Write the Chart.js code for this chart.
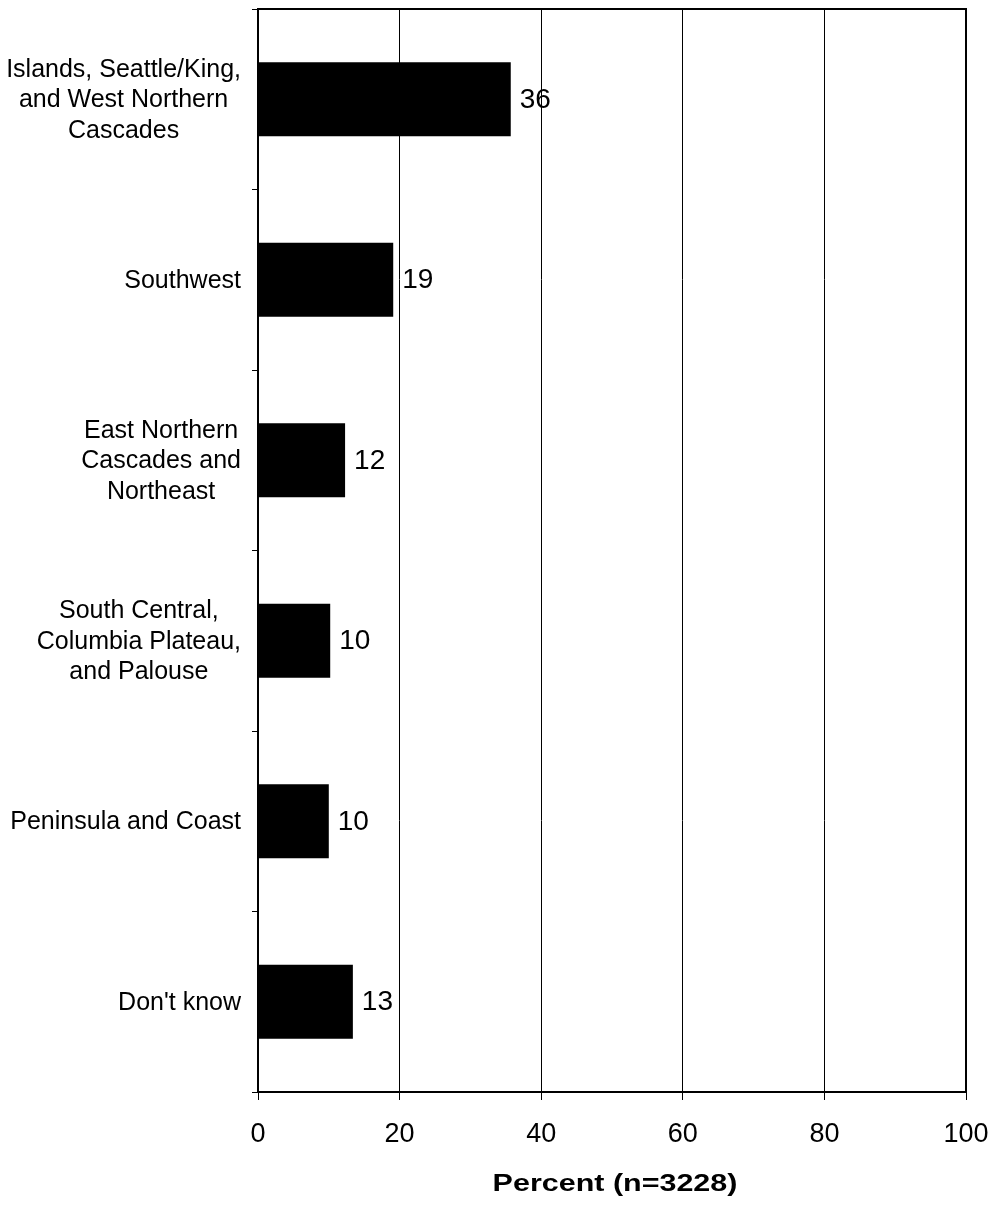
<!DOCTYPE html>
<html>
<head>
<meta charset="utf-8">
<script src="https://cdn.jsdelivr.net/npm/chart.js@4.4.1/dist/chart.umd.min.js"></script>
<style>
  html, body { margin: 0; padding: 0; background: #fff; }
</style>
</head>
<body>
<canvas id="chart" width="995" height="1205"></canvas>
<script>
// Region names, one array of lines per category (drawn right-aligned, lines centred)
const regionLabels = [
    ['Islands, Seattle/King,', 'and West Northern', 'Cascades'],
    ['Southwest'],
    ['East Northern', 'Cascades and', 'Northeast'],
    ['South Central,', 'Columbia Plateau,', 'and Palouse'],
    ['Peninsula and Coast'],
    ["Don't know"],
];
// Percent of respondents per region
const percentValues = [35.7, 19.1, 12.3, 10.2, 10.0, 13.4];
// Labels printed next to each bar
const valueLabels = ['36', '19', '12', '10', '10', '13'];
// x axis ticks
const percentTicks = [0, 20, 40, 60, 80, 100];
const axisTitle = 'Percent (n=3228)';

const FONT = '"Liberation Sans", Arial, Helvetica, sans-serif';

// Category names on the left: block right-aligned, lines centred inside it
const regionLabelPlugin = {
    id: 'regionLabels',
    afterDraw(chart) {
        const ctx = chart.ctx;
        const yScale = chart.scales.y;
        const lineH = 30.5;
        const right = 241;
        ctx.save();
        ctx.font = '25px ' + FONT;
        ctx.fillStyle = '#000';
        ctx.textAlign = 'center';
        ctx.textBaseline = 'middle';
        regionLabels.forEach((lines, i) => {
            const yc = yScale.getPixelForValue(i);
            const blockW = Math.max(...lines.map((l) => ctx.measureText(l).width));
            const xc = right - blockW / 2;
            const y0 = yc - ((lines.length - 1) * lineH) / 2;
            lines.forEach((line, j) => ctx.fillText(line, xc, y0 + j * lineH + 1));
        });
        ctx.restore();
    },
};

// Value labels just past the end of each bar
const barValuePlugin = {
    id: 'barValues',
    afterDatasetsDraw(chart) {
        const ctx = chart.ctx;
        const meta = chart.getDatasetMeta(0);
        ctx.save();
        ctx.font = '28px ' + FONT;
        ctx.fillStyle = '#000';
        ctx.textAlign = 'left';
        ctx.textBaseline = 'middle';
        meta.data.forEach((bar, i) => {
            ctx.fillText(valueLabels[i], bar.x + 9, bar.y + 1);
        });
        ctx.restore();
    },
};

// Top and right edges of the plot box, plus the x axis title
const framePlugin = {
    id: 'frame',
    afterDraw(chart) {
        const ctx = chart.ctx;
        const a = chart.chartArea;
        ctx.save();
        ctx.strokeStyle = '#000';
        ctx.lineWidth = 2;
        ctx.beginPath();
        ctx.moveTo(a.left, a.top);
        ctx.lineTo(a.right, a.top);
        ctx.lineTo(a.right, a.bottom);
        ctx.stroke();

        // title is drawn wide, like the original
        ctx.font = 'bold 24px ' + FONT;
        ctx.textAlign = 'center';
        ctx.textBaseline = 'middle';
        ctx.fillStyle = '#000';
        ctx.translate((a.left + a.right) / 2 + 3, 1184);
        ctx.scale(1.27, 1);
        ctx.fillText(axisTitle, 0, 0);
        ctx.restore();
    },
};

const ctx = document.getElementById('chart').getContext('2d');
new Chart(ctx, {
    type: 'bar',
    data: {
        labels: regionLabels.map((l) => l.join(' ')),
        datasets: [
            {
                data: percentValues,
                backgroundColor: '#000',
                borderWidth: 0,
                barPercentage: 0.41,
                categoryPercentage: 1,
            },
        ],
    },
    options: {
        indexAxis: 'y',
        responsive: false,
        animation: false,
        devicePixelRatio: 1,
        layout: {
            padding: { top: 9, right: 29, left: 0, bottom: 0 },
        },
        plugins: {
            legend: { display: false },
            tooltip: { enabled: false },
        },
        scales: {
            x: {
                type: 'linear',
                min: 0,
                max: 100,
                afterBuildTicks: (scale) => {
                    scale.ticks = percentTicks.map((v) => ({ value: v }));
                },
                afterFit: (scale) => {
                    scale.height = 113;
                    scale.paddingLeft = 0;
                    scale.paddingRight = 0;
                },
                ticks: {
                    color: '#000',
                    font: { family: FONT, size: 27 },
                    padding: 18,
                    maxRotation: 0,
                },
                grid: {
                    color: '#000',
                    lineWidth: 1,
                    tickLength: 8,
                },
                border: { color: '#000', width: 2 },
            },
            y: {
                type: 'category',
                afterFit: (scale) => {
                    scale.width = 258;
                },
                ticks: { display: false },
                grid: {
                    drawOnChartArea: false,
                    color: '#000',
                    lineWidth: 1,
                    tickLength: 6,
                },
                border: { color: '#000', width: 2 },
            },
        },
    },
    plugins: [regionLabelPlugin, barValuePlugin, framePlugin],
});
</script>
</body>
</html>
